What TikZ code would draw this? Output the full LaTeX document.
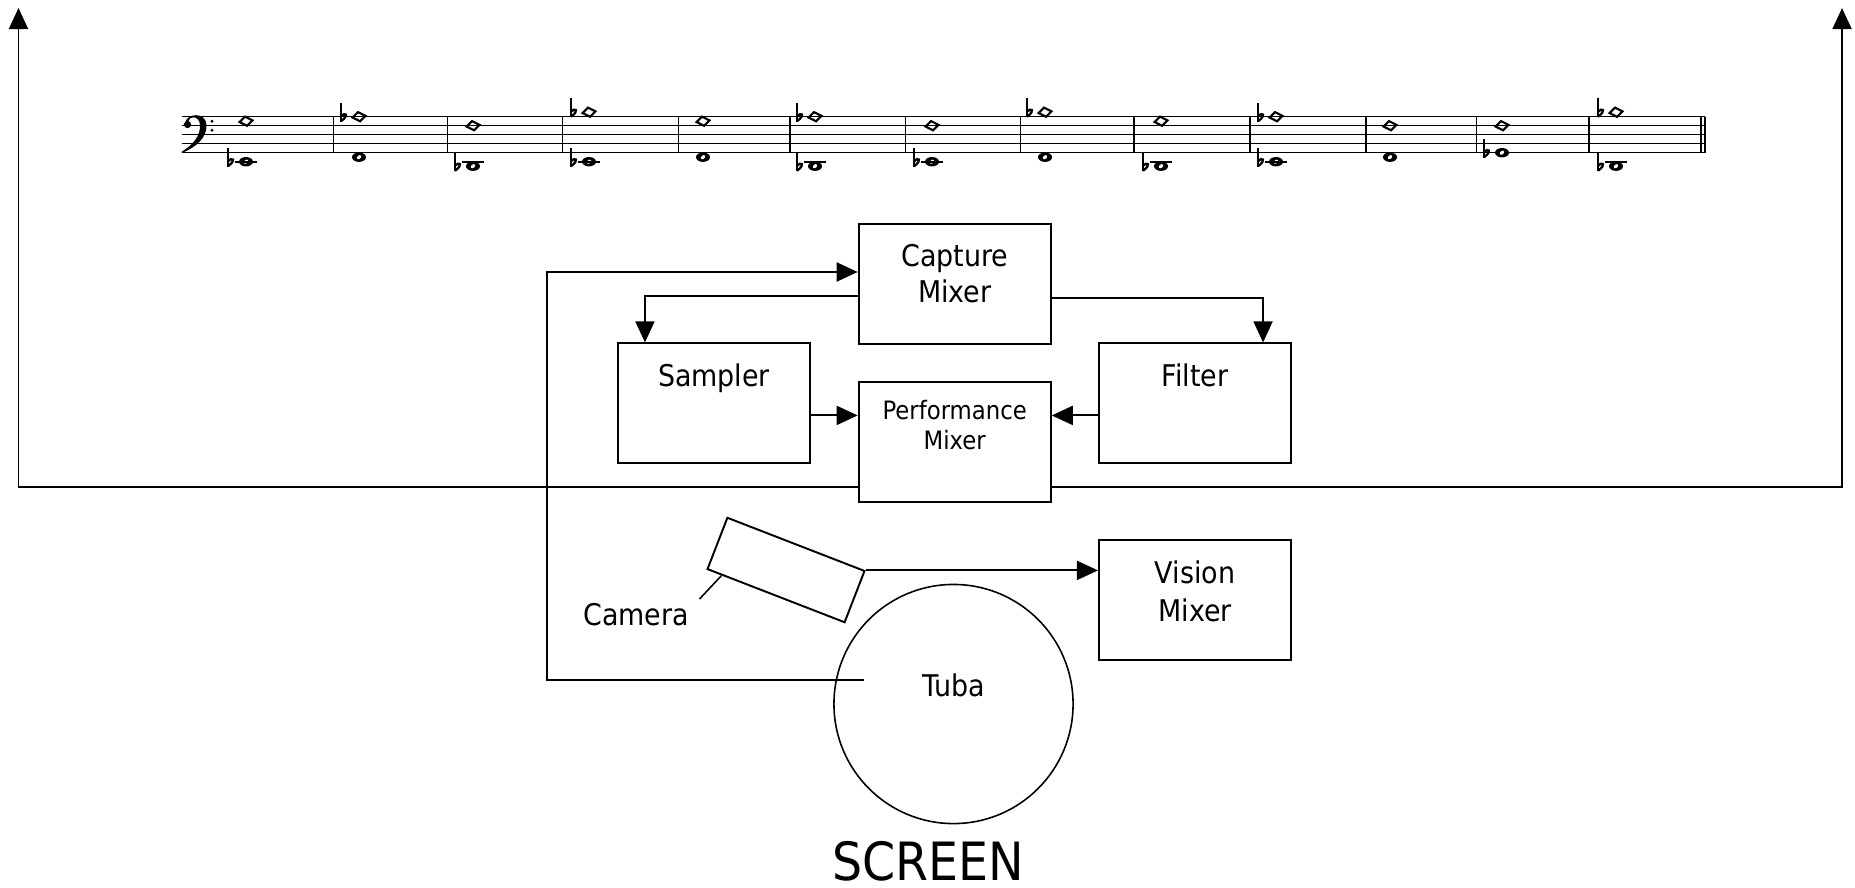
\documentclass[tikz,border=0pt]{standalone}
\usepackage{fontspec}
\setmainfont{DejaVu Sans Condensed}
\usetikzlibrary{arrows.meta,calc,positioning}

\newcommand{\harmnote}[2]{%
  \draw[line width=0.6pt] (#1-6.5,#2+0.8) -- (#1-1,#2-4.6) -- (#1+6.5,#2-0.8) -- (#1+1,#2+4.6) -- cycle;}
\newcommand{\wholenote}[2]{%
  \fill (#1,#2) ellipse [x radius=0.7mm,y radius=0.47mm];
  \fill[white,rotate around={40:(#1,#2)}] (#1,#2) ellipse [x radius=0.25mm,y radius=0.17mm];}
\newcommand{\drawflat}[2]{%
  \draw[line width=0.35pt] (#1-18,#2-14) -- (#1-18,#2+5);
  \draw[line width=0.65pt] (#1-18,#2-0.5) .. controls (#1-14,#2-5) and (#1-9,#2-2) .. (#1-18,#2+4.5);}
\newcommand{\ledgerline}[1]{\draw[line width=0.45pt] (#1-11,161.7) -- (#1+11,161.7);}

\begin{document}
\begin{tikzpicture}[x=0.01cm,y=-0.01cm,
    mixbox/.style={draw,line width=0.55pt,minimum width=19.2mm,minimum height=12mm,inner sep=0pt},
    boxtext/.style={anchor=north,yshift=-2.1mm,align=center,inner sep=0pt,font=\fontsize{8.5}{10}\selectfont},
    flow/.style={-{Triangle[length=2.1mm,width=1.9mm]},line width=0.55pt},
    staffline/.style={line width=0.4pt}
  ]
  \useasboundingbox (0,0) rectangle (1855,887);

  % staff
  \foreach \ly in {0,...,4}
    \draw[staffline] (181.7,116.7+9*\ly) -- (1705,116.7+9*\ly);
  \foreach \bx in {333.3,447.7,562.7,678.7,790,905.7,1020.7,1134,1250,1366,1476.7,1589,1701,1705}
    \draw[staffline] (\bx,116.7) -- (\bx,152.7);
  \fill (185.5,123) .. controls (185.5,113.5) and (206,111) .. (206.5,125) .. controls (207,138) and (196,147) .. (182,153)
    -- (181.5,151.8) .. controls (193,145) and (200.5,136) .. (200,125) .. controls (199.5,115.5) and (189,115.5) .. (188.5,121) -- cycle;
  \fill (187.5,124.5) circle [radius=0.36mm];
  \fill (212,121.2) circle [radius=0.17mm];
  \fill (212,130.2) circle [radius=0.17mm];
  \foreach \nx/\up/\uf/\lo/\lf in {246/1/0/10/1,359/0/1/9/0,473/2/0/11/1,589/-1/1/10/1,703/1/0/9/0,
      815/0/1/11/1,932/2/0/10/1,1045/-1/1/9/0,1161/1/0/11/1,1276/0/1/10/1,1390/2/0/9/0,1502/2/0/8/1,1616/-1/1/11/1}{
    \pgfmathsetmacro\uy{116.7+4.5*\up}
    \pgfmathsetmacro\lwy{116.7+4.5*\lo}
    \harmnote{\nx}{\uy}
    \wholenote{\nx}{\lwy}
    \ifnum\uf=1 \drawflat{\nx}{\uy}\fi
    \ifnum\lf=1 \drawflat{\nx}{\lwy}\fi
    \ifnum\lo>9 \ledgerline{\nx}\fi
  }

  % boxes
  \node[mixbox,label={[boxtext]north:Capture\\Mixer}] (capture) at (954.7,284) {};
  \node[mixbox,label={[boxtext,yshift=0.25mm,font=\fontsize{7.2}{8.7}\selectfont]north:Performance\\Mixer}] (perf) at (954.7,441.8) {};
  \node[mixbox,label={[boxtext]north:Sampler}] (sampler) at (714,403.4) {};
  \node[mixbox,label={[boxtext]north:Filter}] (filter) at (1195,403.4) {};
  \node[mixbox,label={[boxtext,font=\fontsize{8.5}{10.8}\selectfont]north:Vision\\Mixer}] (vision) at (1195,600.3) {};
  \node[draw,circle,line width=0.45pt,minimum size=23.9mm,inner sep=0pt,
    label={[font=\fontsize{8.5}{10}\selectfont,yshift=1.9mm]center:Tuba}] (tuba) at (953.5,704) {};
  \node[draw,line width=0.55pt,minimum width=14.7mm,minimum height=5.5mm,inner sep=0pt,rotate=-21.2] (camera) at (786,570) {};
  \node[font=\fontsize{8.5}{10}\selectfont,inner sep=0pt] (camlabel) at (636,615) {Camera};
  \node[font=\fontsize{15}{18}\selectfont,inner sep=0pt,below=1.6mm of tuba,xshift=-2.5mm] (screen) {SCREEN};

  % connectors
  \coordinate (spkl) at (18.5,8);
  \coordinate (spkr) at (1842,8);
  \coordinate (feedl) at ([yshift=-4.52mm]perf.west);
  \coordinate (feedr) at ([yshift=-4.52mm]perf.east);
  \draw[flow] (feedl) -| (spkl);
  \draw[flow] (feedr) -| (spkr);
  \coordinate (tubamic) at ($(tuba.center)+(-90,-24)$);
  \draw[flow] (tubamic) -- ++(-316.5,0) |- ([yshift=1.2mm]capture.west);
  \draw[flow] ([yshift=-1.2mm]capture.west) -| ([xshift=-6.9mm]sampler.north);
  \draw[flow] ([yshift=-1.4mm]capture.east) -| ([xshift=6.8mm]filter.north);
  \coordinate (sampout) at ([yshift=-1.2mm]sampler.east);
  \draw[flow] (sampout) -- (sampout -| perf.west);
  \coordinate (filtout) at ([yshift=-1.2mm]filter.west);
  \draw[flow] (filtout) -- (filtout -| perf.east);
  \draw[flow] (camera.north east) -- (camera.north east -| vision.west);
  \draw[line width=0.45pt] ([xshift=1mm,yshift=0.4mm]camlabel.north east) -- ($(camera.south west)!0.11!(camera.south east)$);
\end{tikzpicture}
\end{document}
